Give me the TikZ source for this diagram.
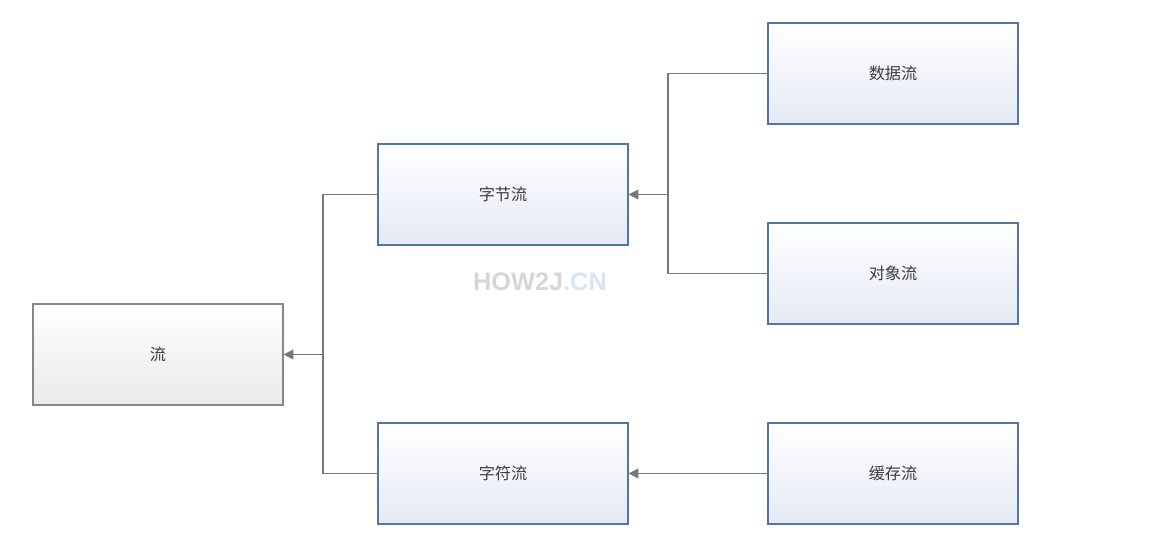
\documentclass[tikz,border=0pt]{standalone}
\usepackage{fontspec}
\newfontfamily\cjk{Noto Sans CJK SC}
\newfontfamily\markfont{Liberation Sans}
\usetikzlibrary{arrows.meta,positioning,calc,shadows}
\definecolor{boxblue}{RGB}{84,116,166}
\definecolor{boxgray}{RGB}{135,135,135}
\definecolor{fillblue}{RGB}{228,234,244}
\definecolor{fillgray}{RGB}{234,234,234}
\definecolor{linegray}{RGB}{120,120,120}
\definecolor{txtgray}{RGB}{60,60,60}
\definecolor{markgray}{RGB}{214,214,214}
\definecolor{markblue}{RGB}{214,228,244}
\begin{document}
\begin{tikzpicture}[>={Triangle[length=7pt,width=7pt]},font=\cjk\fontsize{11.5}{12}\selectfont]
\tikzstyle{b}=[draw=boxblue,line width=0.8pt,minimum width=6.25cm,minimum height=2.525cm,top color=white,bottom color=fillblue,text=txtgray,drop shadow={opacity=0.15,shadow xshift=1pt,shadow yshift=-1pt}]
\tikzstyle{g}=[b,draw=boxgray,bottom color=fillgray]
\tikzstyle{c}=[draw=linegray,line width=0.85pt]
\useasboundingbox (0,0) rectangle (28.8,13.825);
\node[font=\markfont\bfseries\fontsize{18}{18}\selectfont] (mark) at (13.5,6.775) {\textcolor{markgray}{HOW2J}\textcolor{markblue}{.CN}};
\node[g] (liu) at (3.95,4.9625) {流};
\node[b] (zijie) at (12.575,8.9625) {字节流}; \node[b] (zifu) at (12.575,1.9875) {字符流};
\node[b] (shuju) at (22.325,11.9875) {数据流}; \node[b] (duixiang) at (22.325,6.9875) {对象流};
\node[b] (huancun) at (22.325,1.9875) {缓存流};
\coordinate (j1) at (8.075,4.9625); \coordinate (j2) at (16.7,8.9625);
\draw[c] (zijie.west) -| (j1); \draw[c] (zifu.west) -| (j1); \draw[c,->] (j1) -- (liu.east);
\draw[c] (shuju.west) -| (j2); \draw[c] (duixiang.west) -| (j2); \draw[c,->] (j2) -- (zijie.east);
\draw[c,->] (huancun.west) -- (zifu.east);
\end{tikzpicture}
\end{document}
